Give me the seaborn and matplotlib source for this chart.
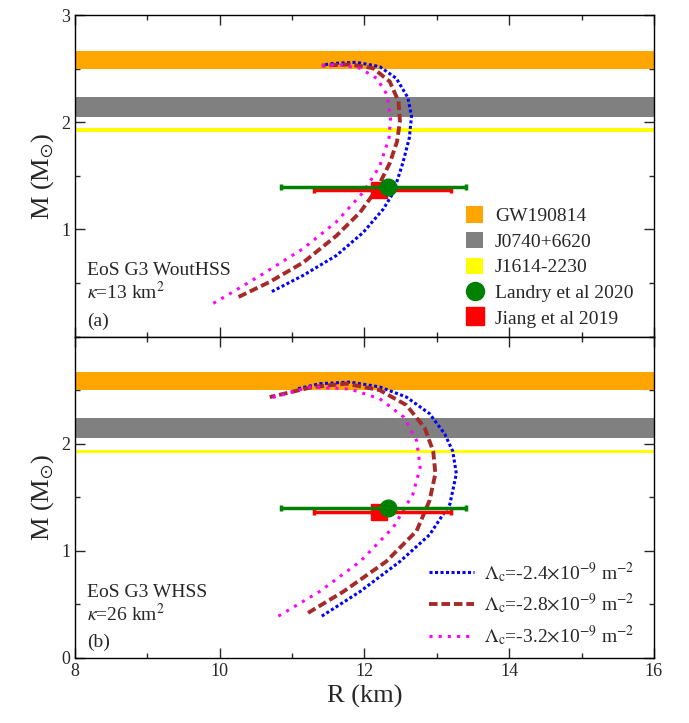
import numpy as np
import pandas as pd
import matplotlib
matplotlib.use("Agg")
import matplotlib.pyplot as plt
import seaborn as sns
from matplotlib.patches import Patch
from matplotlib.lines import Line2D
from matplotlib.ticker import MultipleLocator

# --- observational constraints ---
band_names = ["GW190814", "J0740+6620", "J1614-2230"]
band_low = [2.50, 2.05, 1.91]
band_high = [2.67, 2.24, 1.945]
band_colors = ["#FFA500", "#808080", "#FFFF00"]

landry_R, landry_M, landry_lo, landry_hi = 12.32, 1.40, 1.47, 1.09
jiang_R, jiang_M, jiang_lo, jiang_hi = 12.20, 1.366, 0.90, 1.00

lam_labels = ["-2.4", "-2.8", "-3.2"]

# --- panel (a): EoS G3 WoutHSS, kappa = 13 km^2 ---
a_R_24 = [10.72, 11.15, 11.61, 11.98, 12.26, 12.40, 12.53, 12.62, 12.65, 12.60, 12.44, 12.21, 11.89, 11.57, 11.43]
a_M_24 = [0.42, 0.57, 0.756, 0.97, 1.19, 1.345, 1.62, 1.855, 2.056, 2.23, 2.41, 2.52, 2.56, 2.55, 2.536]
a_R_28 = [10.26, 10.69, 11.15, 11.61, 11.94, 12.17, 12.35, 12.45, 12.49, 12.47, 12.35, 12.12, 11.80, 11.41]
a_M_28 = [0.37, 0.51, 0.69, 0.94, 1.16, 1.375, 1.62, 1.82, 2.01, 2.195, 2.38, 2.505, 2.54, 2.53]
a_R_32 = [9.91, 10.09, 10.56, 11.15, 11.61, 11.98, 12.21, 12.34, 12.36, 12.31, 12.17, 11.94, 11.66, 11.41]
a_M_32 = [0.31, 0.38, 0.57, 0.82, 1.07, 1.345, 1.59, 1.855, 2.04, 2.26, 2.41, 2.505, 2.536, 2.53]

# --- panel (b): EoS G3 WHSS, kappa = 26 km^2 ---
b_R_24 = [11.41, 11.94, 12.49, 12.90, 13.18, 13.27, 13.22, 13.11, 12.90, 12.58, 12.21, 11.80, 11.38, 11.06]
b_M_24 = [0.39, 0.62, 0.90, 1.15, 1.435, 1.72, 1.93, 2.09, 2.28, 2.435, 2.53, 2.575, 2.56, 2.51]
b_R_28 = [11.22, 11.71, 12.30, 12.72, 12.90, 12.98, 12.95, 12.83, 12.58, 12.21, 11.75, 11.29, 10.69]
b_M_28 = [0.42, 0.62, 0.90, 1.185, 1.47, 1.72, 1.93, 2.15, 2.36, 2.50, 2.56, 2.53, 2.435]
b_R_32 = [10.81, 11.38, 11.94, 12.40, 12.67, 12.77, 12.72, 12.54, 12.21, 11.80, 11.25, 10.67]
b_M_32 = [0.39, 0.62, 0.90, 1.22, 1.53, 1.78, 2.03, 2.25, 2.42, 2.51, 2.53, 2.42]

curve_colors = ["#0000FF", "#A52A2A", "#FF00FF"]
curve_styles = [(0, (1, 0.8)), (0, (2.2, 1.0)), (0, (1, 2.0))]
curve_widths = [2.2, 2.8, 2.2]

sns.set_theme(style="ticks")
plt.rcParams["font.family"] = ["Liberation Serif", "DejaVu Serif"]
plt.rcParams["mathtext.fontset"] = "stix"
plt.rcParams["xtick.direction"] = "in"
plt.rcParams["ytick.direction"] = "in"

fig, axes = plt.subplots(2, 1, figsize=(6.89, 7.23), dpi=100, sharex=True)
fig.subplots_adjust(left=0.109, right=0.949, top=0.979, bottom=0.090, hspace=0)

panels = [
    (axes[0], [(a_R_24, a_M_24), (a_R_28, a_M_28), (a_R_32, a_M_32)],
     ["EoS G3 WoutHSS", r"$\kappa$=13 km$^2$", "(a)"]),
    (axes[1], [(b_R_24, b_M_24), (b_R_28, b_M_28), (b_R_32, b_M_32)],
     ["EoS G3 WHSS", r"$\kappa$=26 km$^2$", "(b)"]),
]

for ax, curves, texts in panels:
    for lo, hi, c in zip(band_low, band_high, band_colors):
        ax.axhspan(lo, hi, color=c, lw=0, zorder=1)

    for (R, M), col, ls, lw, lab in zip(curves, curve_colors, curve_styles, curve_widths, lam_labels):
        df = pd.DataFrame({"R": R, "M": M})
        sns.lineplot(data=df, x="R", y="M", sort=False, estimator=None, errorbar=None,
                     ax=ax, color=col, linestyle=ls, lw=lw, zorder=3,
                     label=r"$\Lambda_{\rm c}$=" + lab + r"$\times$10$^{-9}$ m$^{-2}$")

    ax.errorbar([jiang_R], [jiang_M], xerr=[[jiang_lo], [jiang_hi]], fmt="s", color="#FF0000",
                ms=11, lw=2.5, capsize=2, capthick=2.5, zorder=4)
    ax.errorbar([landry_R], [landry_M], xerr=[[landry_lo], [landry_hi]], fmt="o", color="#008000",
                ms=12, lw=2.5, capsize=2, capthick=2.5, zorder=5)

    ax.set_xlim(8, 16)
    ax.set_ylim(0, 3)
    ax.xaxis.set_major_locator(MultipleLocator(2))
    ax.xaxis.set_minor_locator(MultipleLocator(1))
    ax.yaxis.set_major_locator(MultipleLocator(1))
    ax.yaxis.set_minor_locator(MultipleLocator(0.5))
    ax.tick_params(which="both", top=True, right=True, labelsize=13, width=1)
    ax.tick_params(which="major", length=7)
    ax.tick_params(which="minor", length=3.5)
    for sp in ax.spines.values():
        sp.set_linewidth(1)
        sp.set_color("black")
    ax.set_ylabel(r"M (M$_{\odot}$)", fontsize=19)
    ax.set_xlabel("R (km)", fontsize=19)

    ax.text(0.02, 0.19, texts[0], transform=ax.transAxes, fontsize=14, va="baseline")
    ax.text(0.02, 0.115, texts[1], transform=ax.transAxes, fontsize=14, va="baseline")
    ax.text(0.02, 0.034, texts[2], transform=ax.transAxes, fontsize=14, va="baseline")

# hide overlapping tick labels at the joint
axes[0].set_yticks([1, 2, 3])
axes[1].set_yticks([0, 1, 2])
axes[0].set_xlabel("")

# legend panel (a): observations
obs_handles = [Patch(facecolor=c, edgecolor="none") for c in band_colors]
obs_handles.append(Line2D([], [], marker="o", color="#008000", ls="none", ms=13))
obs_handles.append(Line2D([], [], marker="s", color="#FF0000", ls="none", ms=13))
obs_labels = band_names + ["Landry et al 2020", "Jiang et al 2019"]
axes[0].legend(obs_handles, obs_labels, loc="upper left", bbox_to_anchor=(0.675, 0.405),
               frameon=False, fontsize=14, handlelength=0.9, handleheight=0.9,
               handletextpad=0.6, labelspacing=0.35, borderpad=0, borderaxespad=0)

# legend panel (b): Lambda_c curves
axes[1].legend(loc="upper left", bbox_to_anchor=(0.612, 0.305), frameon=False, fontsize=14,
               handlelength=2.3, handletextpad=0.5, labelspacing=0.35, borderpad=0, borderaxespad=0)

fig.savefig("out.png", dpi=100)
